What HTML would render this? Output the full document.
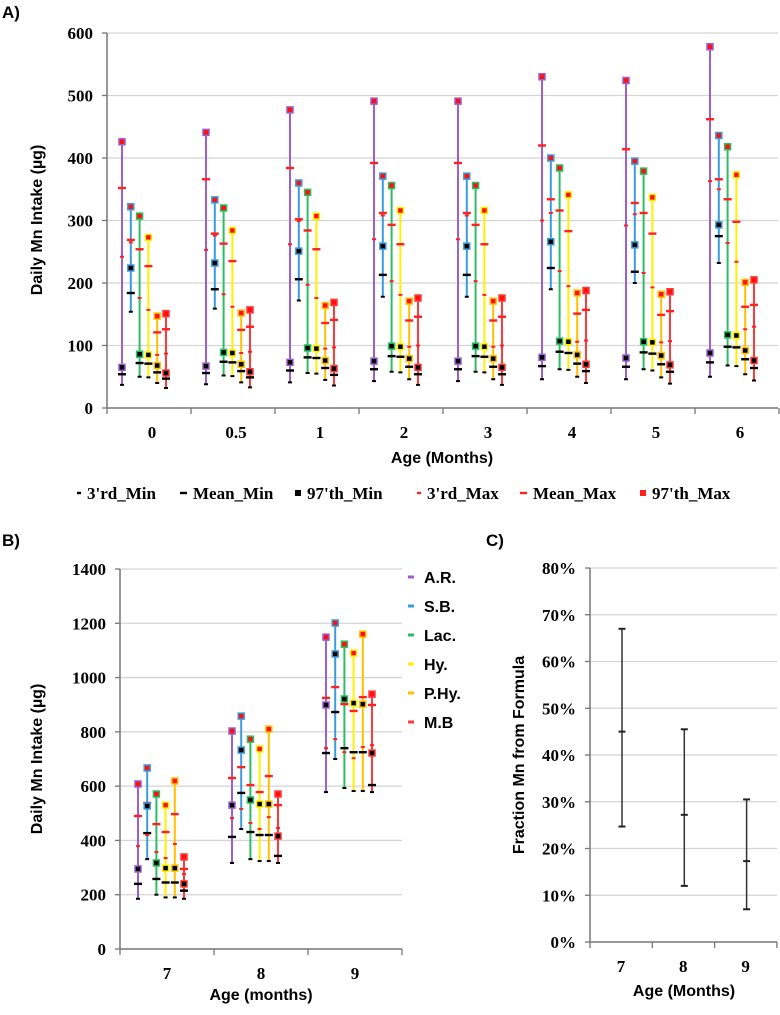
<!DOCTYPE html>
<html><head><meta charset="utf-8">
<style>
html,body{margin:0;padding:0;background:#fff;}
svg{display:block;}
.tk{font-family:"Liberation Serif",serif;font-weight:bold;font-size:17px;fill:#000;}
.tt{font-family:"Liberation Sans",sans-serif;font-weight:bold;font-size:16px;fill:#000;}
.pl{font-family:"Liberation Sans",sans-serif;font-weight:bold;font-size:17px;fill:#000;}
</style></head>
<body>
<svg id="chart" width="780" height="1015" viewBox="0 0 780 1015" xmlns="http://www.w3.org/2000/svg">
<text class="pl" x="2" y="18">A)</text>
<text class="pl" x="2" y="546">B)</text>
<text class="pl" x="486" y="546">C)</text>
<g id="pa"></g>
<g id="pb"></g>
<g id="pc"></g>
</svg>
<script>
// ---------- shared ----------
const seriesNames = ["A.R.","S.B.","Lac.","Hy.","P.Hy.","M.B"];
const seriesColors = ["#9b5fcf","#3b9bdc","#2dbd62","#fff000","#ffc000","#ff3a3a"];
const statNames = ["3'rd_Min","Mean_Min","97'th_Min","3'rd_Max","Mean_Max","97'th_Max"];
// ---------- Panel A data: per series, per age group [3rdMin,MeanMin,97Min,3rdMax,MeanMax,97Max] ----------
const aCats = ["0","0.5","1","2","3","4","5","6"];
const aTicks = [0,100,200,300,400,500,600];
const aAR  = [[37,54,65,242,352,426],[38,56,67,253,366,441],[41,60,73,262,384,477],[43,62,75,270,392,491],[43,62,75,270,392,491],[46,67,81,300,420,530],[46,66,80,292,414,524],[50,73,88,363,462,578]];
const aSB  = [[154,184,224,265,269,322],[159,190,232,276,279,333],[172,206,251,299,302,360],[178,213,259,308,312,371],[178,213,259,308,312,371],[190,224,266,312,334,400],[200,218,261,310,328,395],[232,275,293,350,366,436]];
const aLac = [[50,72,86,176,254,307],[52,74,89,182,263,320],[56,81,96,197,284,345],[58,83,99,203,293,356],[58,83,99,203,293,356],[62,90,107,219,316,384],[62,89,106,216,312,379],[68,98,117,264,334,418]];
const aHy  = [[49,71,85,157,227,273],[51,73,88,162,235,284],[55,80,95,176,254,307],[57,82,98,181,262,316],[57,82,98,181,262,316],[61,88,106,195,283,341],[60,87,105,193,279,337],[67,97,116,234,298,373]];
const aPHy = [[40,57,68,85,121,147],[41,59,70,88,125,152],[45,64,76,95,136,164],[46,66,79,98,140,171],[46,66,79,98,140,171],[50,71,85,106,151,184],[49,70,84,105,149,182],[54,78,92,126,162,201]];
const aMB  = [[32,47,56,87,126,151],[33,49,58,90,130,157],[36,53,63,97,141,169],[37,54,65,100,146,176],[37,54,65,100,146,176],[40,59,70,108,157,188],[39,58,69,107,155,186],[44,64,76,130,165,205]];
// ---------- Panel B data ----------
const bCats = ["7","8","9"];
const bTicks = [0,200,400,600,800,1000,1200,1400];
const bAR  = [[185,240,295,379,490,608],[317,413,530,482,630,803],[578,722,899,740,925,1149]];
const bSB  = [[331,427,527,420,538,667],[442,575,733,516,670,858],[700,873,1087,773,965,1201]];
const bLac = [[200,258,317,357,460,571],[331,431,549,464,604,773],[593,740,921,725,902,1123]];
const bHy  = [[190,245,298,335,431,530],[324,420,534,442,578,737],[582,725,906,703,877,1090]];
const bPHy = [[190,245,298,387,497,619],[324,420,534,486,637,810],[582,725,902,744,928,1160]];
const bMB  = [[185,215,240,276,295,339],[317,343,416,446,530,571],[578,604,722,751,899,939]];
// ---------- Panel C data ----------
const cCats = ["7","8","9"];
const cTicks = [0,10,20,30,40,50,60,70,80];
const cMean = [45,27.2,17.3];
const cLow = [24.7,12,7];
const cHigh = [67,45.5,30.5];

const NS="http://www.w3.org/2000/svg";
function mk(tag,attrs,parent,txt){const e=document.createElementNS(NS,tag);for(const k in attrs)e.setAttribute(k,attrs[k]);if(txt!==undefined)e.textContent=txt;parent.appendChild(e);return e;}

function drawStats(g,x,vals,color,yf,name){
  const [m3,mm,m97,x3,xm,x97]=vals;
  const ln=mk('line',{x1:x,x2:x,y1:yf(m3),y2:yf(x97),stroke:color,'stroke-width':2},g);
  
  
  const d1=mk('rect',{x:x-2,y:yf(m3)-1,width:4,height:2,fill:'#000'},g);
  
  
  const d2=mk('rect',{x:x-4,y:yf(mm)-1.2,width:8,height:2.4,fill:'#000'},g);
  
  
  const d4=mk('rect',{x:x-2,y:yf(x3)-1,width:4,height:2,fill:'#ff2020'},g);
  
  
  const d5=mk('rect',{x:x-4,y:yf(xm)-1.2,width:8,height:2.4,fill:'#ff2020'},g);
  
  
  const d3=mk('rect',{x:x-3,y:yf(m97)-3,width:6,height:6,fill:'#000',stroke:color,'stroke-width':1.5},g);
  
  
  const d6=mk('rect',{x:x-3,y:yf(x97)-3,width:6,height:6,fill:'#ff1010',stroke:color,'stroke-width':1.5},g);
  
  
}

function axes(g,L,R,T,B,ticks,yf,fmt,cats,xc,bandL,band,idp){
  ticks.forEach(t=>{
    const y=yf(t);
    if(t!==ticks[0]){const gl=mk('line',{x1:L,x2:R,y1:y,y2:y,stroke:'#d4d4d4','stroke-width':1.3},g);
    
    }
    mk('line',{x1:L-5,x2:L,y1:y,y2:y,stroke:'#777','stroke-width':1.3},g);
    const tl=mk('text',{x:L-14,y:y+6,'text-anchor':'end',class:'tk'},g,fmt(t));
    
    
  });
  const ya=mk('line',{x1:L,x2:L,y1:T,y2:B,stroke:'#777','stroke-width':1.5},g);
  
  
  const xa=mk('line',{x1:L,x2:R,y1:B,y2:B,stroke:'#777','stroke-width':1.5},g);
  
  
  for(let i=0;i<=cats.length;i++){const x=bandL+band*i;mk('line',{x1:x,x2:x,y1:B,y2:B+6,stroke:'#777','stroke-width':1.3},g);}
  cats.forEach((c,i)=>{
    const tl=mk('text',{x:xc(i),y:B+30,'text-anchor':'middle',class:'tk'},g,c);
    
    
  });
}

// ---------- Panel A ----------
(function(){
  const g=document.getElementById('pa');
  const L=107,R=778,T=33,B=408,band=84;
  const yf=v=>B-(v-0)*(B-T)/600;
  axes(g,L,R,T,B,aTicks,yf,t=>String(t),aCats,i=>L+band*i+45,L,band,'panel-a');
  const data=[aAR,aSB,aLac,aHy,aPHy,aMB];
  aCats.forEach((c,gi)=>{
    data.forEach((s,si)=>{
      drawStats(g,L+band*gi+15+8.8*si,s[gi],seriesColors[si],yf,'a-'+seriesNames[si].replace(/\./g,'').toLowerCase()+'-'+c);
    });
  });
  const yt=mk('text',{x:0,y:0,'text-anchor':'middle',class:'tt',transform:'translate(42,220) rotate(-90)'},g,'Daily Mn Intake (µg)');
  
  
  const xt=mk('text',{x:442,y:463,'text-anchor':'middle',class:'tt'},g,'Age (Months)');
  
  
  // legend
  const lx=[87,193,307,427,533,652];
  statNames.forEach((n,i)=>{
    const col=i<3?'#000':'#ff2020';
    const w=i%3===0?4:(i%3===1?7:6), h=i%3===2?6:2.4;
    const m=mk('rect',{x:lx[i]-6-w,y:493-h/2,width:w,height:h,fill:col},g);
    
    
    const t=mk('text',{x:lx[i],y:499,class:'tk'},g,n);
    
    
  });
})();

// ---------- Panel B ----------
(function(){
  const g=document.getElementById('pb');
  const L=120,R=402,T=569,B=949,band=94;
  const yf=v=>B-v*(B-T)/1400;
  axes(g,L,R,T,B,bTicks,yf,t=>String(t),bCats,i=>L+band*i+47,L,band,'panel-b');
  const data=[bAR,bSB,bLac,bHy,bPHy,bMB];
  bCats.forEach((c,gi)=>{
    data.forEach((s,si)=>{
      drawStats(g,L+band*gi+18+9.2*si,s[gi],seriesColors[si],yf,'b-'+seriesNames[si].replace(/\./g,'').toLowerCase()+'-'+c);
    });
  });
  const yt=mk('text',{x:0,y:0,'text-anchor':'middle',class:'tt',transform:'translate(42,759) rotate(-90)'},g,'Daily Mn Intake (µg)');
  
  
  const xt=mk('text',{x:261,y:1000,'text-anchor':'middle',class:'tt'},g,'Age (months)');
  
  
  seriesNames.forEach((n,i)=>{
    const y=577+29*i;
    const m=mk('rect',{x:408,y:y-1.5,width:6,height:3,fill:seriesColors[i]},g);
    
    
    const t=mk('text',{x:424,y:y+6,class:'tt'},g,n);
    
    
  });
})();

// ---------- Panel C ----------
(function(){
  const g=document.getElementById('pc');
  const L=590,R=777,T=568,B=942,band=62.3;
  const yf=v=>B-v*(B-T)/80;
  axes(g,L,R,T,B,cTicks,yf,t=>t+'%',cCats,i=>L+band*i+31,L,band,'panel-c');
  cCats.forEach((c,i)=>{
    const x=L+band*i+32;
    const l=mk('line',{x1:x,x2:x,y1:yf(cLow[i]),y2:yf(cHigh[i]),stroke:'#333','stroke-width':1.5},g);
    
    
    [cLow[i],cMean[i],cHigh[i]].forEach((v,k)=>{
      const cap=mk('line',{x1:x-3.5,x2:x+3.5,y1:yf(v),y2:yf(v),stroke:'#222','stroke-width':2},g);
      
      
    });
  });
  const yt=mk('text',{x:0,y:0,'text-anchor':'middle',class:'tt',transform:'translate(524,755) rotate(-90)'},g,'Fraction Mn from Formula');
  
  
  const xt=mk('text',{x:684,y:996,'text-anchor':'middle',class:'tt'},g,'Age (Months)');
  
  
})();
</script>
</body></html>
